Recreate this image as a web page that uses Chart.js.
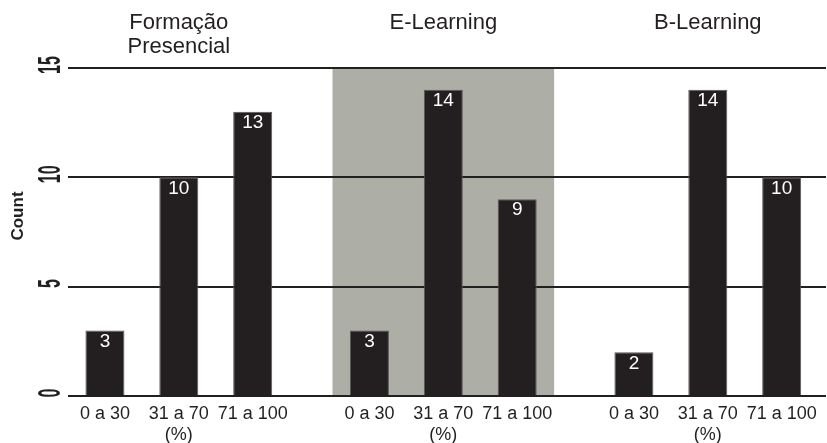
<!DOCTYPE html>
<html>
<head>
<meta charset="utf-8">
<script src="https://cdn.jsdelivr.net/npm/chart.js@4.4.1/dist/chart.umd.min.js"></script>
<style>
  html, body { margin: 0; padding: 0; background: #ffffff; }
  #wrap { width: 827px; height: 443px; }
</style>
</head>
<body>
<div id="wrap"><canvas id="c" width="827" height="443"></canvas></div>
<script>
// ---- data ----
const categories = ['0 a 30', '31 a 70', '71 a 100'];
const panels = ['Formação\nPresencial', 'E-Learning', 'B-Learning'];
const presencial = [3, 10, 13];
const eLearning = [3, 14, 9];
const bLearning = [2, 14, 10];
const yTicks = [0, 5, 10, 15];
const xUnit = '(%)';
const yTitle = 'Count';

// ---- layout / style constants ----
const PANEL_STEP = 3.58;      // distance between panels in bar slots
const INK = '#231f20';
const SHADE = '#adaea6';
const FONT = "'Liberation Sans', Arial, Helvetica, sans-serif";

const panelValues = [presencial, eLearning, bLearning];
const pos = (p, i) => p * PANEL_STEP + i;
const barPositions = [];
const barLabels = [];
panelValues.forEach((vals, p) => vals.forEach((v, i) => {
  barPositions.push(pos(p, i));
  barLabels.push(i === 1 ? [categories[i], xUnit] : categories[i]);
}));
const panelCenters = panels.map((_, p) => pos(p, 1));
const xMin = pos(0, 0) - 0.5;
const xMax = pos(2, 2) + 0.6;

const datasets = panelValues.map((vals, p) => ({
  label: panels[p].replace('\n', ' '),
  data: vals.map((v, i) => ({ x: pos(p, i), y: v })),
  backgroundColor: INK,
  borderColor: '#5a5758',
  borderWidth: 1,
  grouped: false,
  barPercentage: 0.528,
  categoryPercentage: 1
}));

const shadePlugin = {
  id: 'shade',
  beforeDraw(chart) {
    const x = chart.scales.x, y = chart.scales.y, ctx = chart.ctx;
    const l = x.getPixelForValue(pos(1, 0) - 0.5);
    const r = x.getPixelForValue(pos(1, 2) + 0.5);
    const t = y.getPixelForValue(yTicks[yTicks.length - 1]);
    const b = y.getPixelForValue(0);
    ctx.save();
    ctx.fillStyle = SHADE;
    ctx.fillRect(l, t, r - l, b - t);
    ctx.restore();
  }
};

const valueLabelPlugin = {
  id: 'valueLabels',
  afterDatasetsDraw(chart) {
    const ctx = chart.ctx;
    ctx.save();
    ctx.fillStyle = '#ffffff';
    ctx.font = '19px ' + FONT;
    ctx.textAlign = 'center';
    ctx.textBaseline = 'middle';
    chart.data.datasets.forEach((ds, di) => {
      const meta = chart.getDatasetMeta(di);
      meta.data.forEach((el, i) => {
        ctx.fillText(String(ds.data[i].y), el.x, el.y + 11);
      });
    });
    ctx.restore();
  }
};

const yAxisTextPlugin = {
  id: 'yAxisText',
  afterDraw(chart) {
    const y = chart.scales.y, ctx = chart.ctx, ca = chart.chartArea;
    ctx.save();
    ctx.fillStyle = INK;
    ctx.textAlign = 'center';
    ctx.textBaseline = 'middle';
    ctx.font = 'bold 16px ' + FONT;
    y.ticks.forEach(t => {
      const py = y.getPixelForValue(t.value) - 3;
      ctx.save();
      ctx.translate(51, py);
      ctx.rotate(-Math.PI / 2);
      ctx.scale(1, 2.0);
      ctx.fillText(String(t.value), 0, 0);
      ctx.restore();
    });
    ctx.save();
    ctx.font = 'bold 17px ' + FONT;
    ctx.translate(18, (ca.top + ca.bottom) / 2 - 16);
    ctx.rotate(-Math.PI / 2);
    ctx.fillText(yTitle, 0, 0);
    ctx.restore();
    ctx.restore();
  }
};

new Chart(document.getElementById('c'), {
  type: 'bar',
  data: { datasets },
  options: {
    responsive: false,
    animation: false,
    devicePixelRatio: 1,
    layout: { padding: { top: 10, right: 1, bottom: 0, left: 0 } },
    plugins: {
      legend: { display: false },
      tooltip: { enabled: false }
    },
    scales: {
      x: {
        type: 'linear',
        position: 'bottom',
        min: xMin,
        max: xMax,
        bounds: 'data',
        offset: false,
        grid: { display: false, drawTicks: false },
        border: { display: false },
        afterBuildTicks(scale) { scale.ticks = barPositions.map(v => ({ value: v })); },
        afterFit(scale) { scale.height = 47; },
        ticks: {
          autoSkip: false,
          maxRotation: 0,
          minRotation: 0,
          padding: 8,
          color: INK,
          font: { family: FONT, size: 18, lineHeight: 1.15 },
          callback: (v, i) => barLabels[i]
        }
      },
      xTop: {
        type: 'linear',
        position: 'top',
        min: xMin,
        max: xMax,
        bounds: 'data',
        offset: false,
        grid: { display: false, drawTicks: false },
        border: { display: false },
        afterBuildTicks(scale) { scale.ticks = panelCenters.map(v => ({ value: v })); },
        afterFit(scale) { scale.height = 58; },
        ticks: {
          autoSkip: false,
          maxRotation: 0,
          minRotation: 0,
          padding: 10,
          crossAlign: 'far',
          color: INK,
          font: { family: FONT, size: 22, lineHeight: 1.05 },
          callback: (v, i) => panels[i].split('\n')
        }
      },
      y: {
        type: 'linear',
        min: yTicks[0],
        max: yTicks[yTicks.length - 1],
        afterBuildTicks(scale) { scale.ticks = yTicks.map(v => ({ value: v })); },
        afterFit(scale) { scale.width = 68; },
        grid: { color: INK, lineWidth: 2, drawTicks: false },
        border: { display: false },
        ticks: { display: false },
        title: { display: false, text: yTitle }
      }
    }
  },
  plugins: [shadePlugin, valueLabelPlugin, yAxisTextPlugin]
});
</script>
</body>
</html>
